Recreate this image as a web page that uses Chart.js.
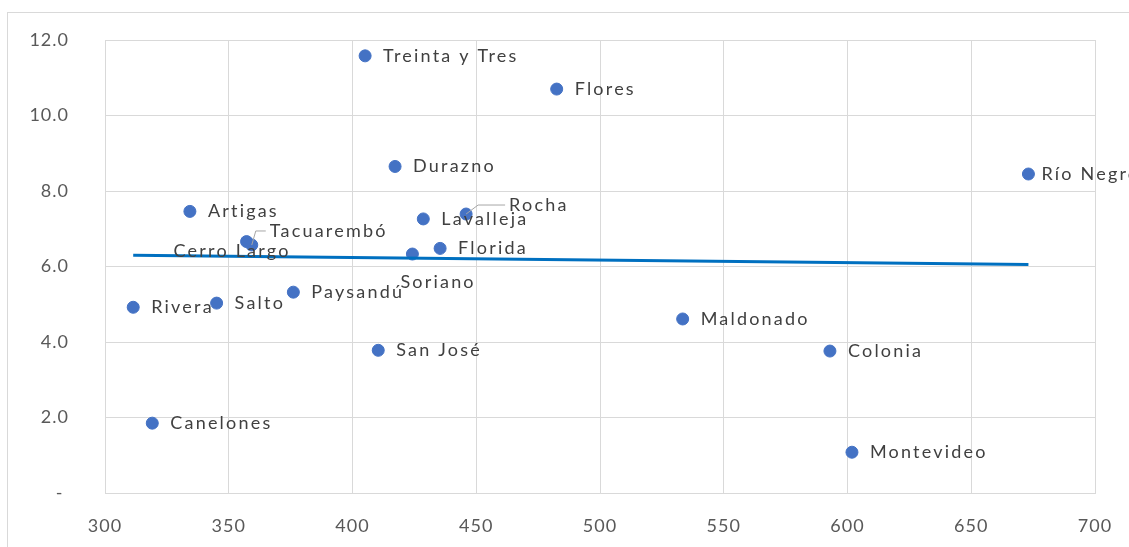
<!DOCTYPE html>
<html>
<head>
<meta charset="utf-8">
<script src="https://cdn.jsdelivr.net/npm/chart.js@4.4.1/dist/chart.umd.min.js"></script>
<style>
  html, body { margin: 0; padding: 0; background: #fff; }
  #wrap { width: 1129px; height: 547px; position: relative; }
</style>
</head>
<body>
<div id="wrap"><canvas id="chart"></canvas></div>
<script>
var departamentos = ['Treinta y Tres', 'Flores', 'Durazno', 'Río Negro', 'Artigas', 'Rocha', 'Lavalleja',
  'Cerro Largo', 'Tacuarembó', 'Soriano', 'Florida', 'Paysandú', 'Salto', 'Rivera', 'San José',
  'Maldonado', 'Colonia', 'Canelones', 'Montevideo'];
var xValues = [405.1, 482.5, 417.2, 673.1, 334.3, 445.9, 428.6, 357.2, 359.3, 424.2, 435.4, 376.1,
  345.1, 311.4, 410.4, 533.4, 592.9, 319.1, 601.8];
var yValues = [11.58, 10.70, 8.65, 8.45, 7.46, 7.39, 7.26, 6.66, 6.57, 6.33, 6.48, 5.32, 5.03, 4.92,
  3.78, 4.61, 3.76, 1.85, 1.08];
// trendline end points
var trendX = [311.4, 673.1];
var trendY = [6.30, 6.05];
var xTicks = [300, 350, 400, 450, 500, 550, 600, 650, 700];
var yTicks = [0, 2, 4, 6, 8, 10, 12];

// label placement (offsets from the point, px); leader = draw a connector line
var labelOffsets = {
  'Río Negro': { dx: 13, dy: 0 },
  'Rocha': { dx: 43, dy: -9, leader: true },
  'Tacuarembó': { dx: 18, dy: -14, leader: true },
  'Cerro Largo': { dx: -73, dy: 10 },
  'Soriano': { dx: -12, dy: 28 }
};

var FONT = 'Lato, "Open Sans", sans-serif';

var points = xValues.map(function (x, i) {
  return { x: x, y: yValues[i] };
});
var trend = trendX.map(function (x, i) {
  return { x: x, y: trendY[i] };
});

var frame = {
  id: 'frame',
  beforeDraw: function (chart) {
    var ctx = chart.ctx;
    ctx.save();
    ctx.strokeStyle = '#d9d9d9';
    ctx.lineWidth = 1;
    ctx.strokeRect(7.5, 12.5, 1400, 800);
    ctx.restore();
    // Excel-like loose tracking for the tick labels
    if ('letterSpacing' in ctx) {
      ctx.letterSpacing = '1px';
    }
  }
};

var pointLabels = {
  id: 'pointLabels',
  afterDatasetsDraw: function (chart) {
    var ctx = chart.ctx;
    var meta = chart.getDatasetMeta(1);
    ctx.save();
    ctx.font = '18px ' + FONT;
    ctx.fillStyle = '#404040';
    ctx.textBaseline = 'middle';
    ctx.textAlign = 'left';
    if ('letterSpacing' in ctx) {
      ctx.letterSpacing = '2.2px';
    }
    meta.data.forEach(function (el, i) {
      var name = departamentos[i];
      var off = labelOffsets[name] || { dx: 18, dy: 0 };
      var tx = el.x + off.dx;
      var ty = el.y + off.dy;
      if (off.leader) {
        ctx.save();
        ctx.strokeStyle = '#a6a6a6';
        ctx.lineWidth = 1;
        ctx.beginPath();
        ctx.moveTo(el.x, el.y);
        ctx.lineTo(el.x + 4 + (off.dx > 30 ? 8 : 0), ty);
        ctx.lineTo(tx - 4, ty);
        ctx.stroke();
        ctx.restore();
      }
      ctx.fillText(name, tx, ty);
    });
    ctx.restore();
  }
};

new Chart(document.getElementById('chart'), {
  type: 'scatter',
  data: {
    datasets: [
      {
        type: 'line',
        label: 'Tendencia',
        data: trend,
        borderColor: '#0070c0',
        borderWidth: 3,
        pointRadius: 0,
        fill: false,
        order: 0
      },
      {
        label: 'Departamentos',
        data: points,
        backgroundColor: '#4472c4',
        borderColor: '#4472c4',
        pointRadius: 6,
        pointHoverRadius: 6,
        order: 1
      }
    ]
  },
  options: {
    responsive: true,
    maintainAspectRatio: false,
    animation: false,
    layout: {
      padding: { left: 0, right: 34, top: 40, bottom: 0 }
    },
    plugins: {
      legend: { display: false },
      tooltip: { enabled: false }
    },
    scales: {
      x: {
        type: 'linear',
        min: 300,
        max: 700,
        afterBuildTicks: function (axis) {
          axis.ticks = xTicks.map(function (v) { return { value: v }; });
        },
        afterFit: function (axis) {
          axis.height = 54;
        },
        grid: {
          color: '#d9d9d9',
          lineWidth: 1,
          drawTicks: true,
          tickLength: 22,
          tickColor: 'rgba(0,0,0,0)'
        },
        border: { color: '#d9d9d9' },
        ticks: {
          padding: 0,
          color: '#595959',
          font: { family: FONT, size: 18 },
          callback: function (value) {
            return String(value);
          }
        }
      },
      y: {
        type: 'linear',
        min: 0,
        max: 12,
        afterBuildTicks: function (axis) {
          axis.ticks = yTicks.map(function (v) { return { value: v }; });
        },
        afterFit: function (axis) {
          axis.width = 105;
        },
        grid: {
          color: '#d9d9d9',
          lineWidth: 1,
          drawTicks: true,
          tickLength: 36,
          tickColor: 'rgba(0,0,0,0)'
        },
        border: { color: '#d9d9d9' },
        ticks: {
          padding: 0,
          color: '#595959',
          font: { family: FONT, size: 18 },
          callback: function (value) {
            return value === 0 ? '- ' : value.toFixed(1);
          }
        }
      }
    }
  },
  plugins: [frame, pointLabels]
});
</script>
</body>
</html>
